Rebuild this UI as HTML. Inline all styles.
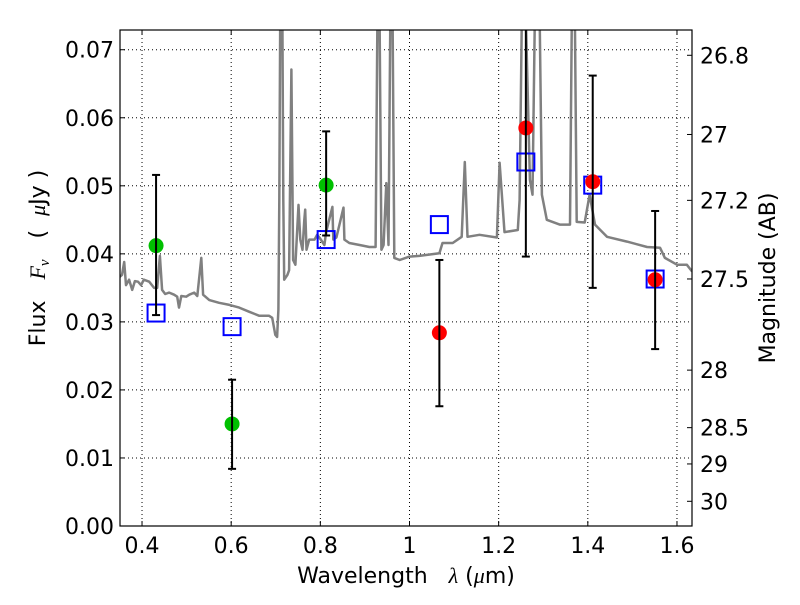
<!DOCTYPE html>
<html><head><meta charset="utf-8"><style>
body{margin:0;background:#fff}
svg{font-family:"DejaVu Sans","Liberation Sans",sans-serif}
.pre{white-space:pre}
</style></head><body>
<svg id="chart" width="800" height="600" viewBox="0 0 800 600"></svg>
<script>
// Spectrum (wavelength um, flux uJy)
const specLam=[0.348,0.355,0.360,0.364,0.371,0.378,0.384,0.391,0.398,0.404,0.416,0.427,0.434,0.440,0.445,0.452,0.461,0.472,0.479,0.483,0.488,0.499,0.506,0.517,0.524,0.533,0.537,0.551,0.573,0.596,0.618,0.640,0.663,0.685,0.692,0.699,0.703,0.706,0.708,0.710,0.715,0.717,0.719,0.726,0.730,0.735,0.739,0.744,0.748,0.751,0.755,0.760,0.764,0.766,0.769,0.775,0.787,0.793,0.798,0.809,0.813,0.827,0.829,0.836,0.852,0.854,0.865,0.888,0.910,0.924,0.928,0.933,0.937,0.942,0.948,0.953,0.957,0.962,0.966,0.978,1.000,1.022,1.067,1.074,1.097,1.117,1.124,1.130,1.157,1.196,1.202,1.213,1.243,1.247,1.252,1.261,1.270,1.276,1.281,1.292,1.297,1.308,1.337,1.360,1.364,1.371,1.375,1.393,1.404,1.416,1.443,1.488,1.533,1.562,1.573,1.600,1.622,1.634];
const specFlux=[0.0365,0.0369,0.0388,0.0354,0.0362,0.0347,0.0360,0.0359,0.0354,0.0362,0.0359,0.0350,0.0350,0.0397,0.0347,0.0341,0.0343,0.0340,0.0337,0.0321,0.0338,0.0337,0.0340,0.0343,0.0338,0.0394,0.0340,0.0332,0.0328,0.0325,0.0321,0.0315,0.0309,0.0309,0.0306,0.0281,0.0278,0.0318,0.0479,0.0744,0.0744,0.0479,0.0362,0.0369,0.0376,0.0671,0.0391,0.0384,0.0435,0.0472,0.0421,0.0406,0.0450,0.0465,0.0406,0.0421,0.0421,0.0428,0.0424,0.0413,0.0432,0.0469,0.0421,0.0424,0.0468,0.0421,0.0416,0.0413,0.0410,0.0410,0.0744,0.0744,0.0406,0.0413,0.0504,0.0413,0.0744,0.0744,0.0394,0.0391,0.0396,0.0397,0.0401,0.0416,0.0416,0.0425,0.0535,0.0425,0.0428,0.0424,0.0534,0.0432,0.0435,0.0479,0.0744,0.0744,0.0509,0.0487,0.0744,0.0744,0.0487,0.0450,0.0443,0.0443,0.0744,0.0744,0.0447,0.0446,0.0487,0.0443,0.0425,0.0418,0.0410,0.0409,0.0394,0.0384,0.0384,0.0374];
// Green observed points
const greenLam=[0.4315,0.602,0.813];
const greenFlux=[0.0412,0.0150,0.0501];
const greenLo=[0.0310,0.0084,0.0427];
const greenHi=[0.0516,0.0215,0.0580];
// Red observed points
const redLam=[1.067,1.261,1.411,1.551];
const redFlux=[0.0284,0.0585,0.0506,0.0362];
const redLo=[0.0176,0.0396,0.0350,0.0260];
const redHi=[0.0391,0.0780,0.0662,0.0463];
// Model photometry (blue squares)
const modelLam=[0.4315,0.602,0.813,1.067,1.261,1.411,1.551];
const modelFlux=[0.0313,0.0293,0.0421,0.0443,0.0535,0.0501,0.0363];
// Ticks
const xTicks=[0.4,0.6,0.8,1.0,1.2,1.4,1.6];
const xTickLabels=["0.4","0.6","0.8","1","1.2","1.4","1.6"];
const yTicks=[0,0.01,0.02,0.03,0.04,0.05,0.06,0.07];
const yTickLabels=["0.00","0.01","0.02","0.03","0.04","0.05","0.06","0.07"];
const magTicks=[26.8,27,27.2,27.5,28,28.5,29,30];
const magTickLabels=["26.8","27","27.2","27.5","28","28.5","29","30"];

const L=120,R=692,T=30,B=526;
const xmin=0.3506,xmax=1.6337,ymin=0,ymax=0.0729;
const sx=v=>L+(v-xmin)/(xmax-xmin)*(R-L);
const sy=v=>B-(v-ymin)/(ymax-ymin)*(B-T);
const magToFlux=m=>Math.pow(10,(23.9-m)/2.5);
const svg=document.getElementById('chart');
const NS='http://www.w3.org/2000/svg';
function mk(tag,attrs,parent){const e=document.createElementNS(NS,tag);for(const k in attrs)e.setAttribute(k,attrs[k]);(parent||svg).appendChild(e);return e;}

const defs=mk('defs',{});
const cp=mk('clipPath',{id:'clip'},defs);
mk('rect',{x:L,y:T,width:R-L,height:B-T},cp);

const grid=mk('g',{});


xTicks.forEach(v=>mk('line',{x1:sx(v),x2:sx(v),y1:T,y2:B,stroke:'#000','stroke-width':1,'stroke-dasharray':'1,3'},grid));
yTicks.forEach(v=>mk('line',{x1:L,x2:R,y1:sy(v),y2:sy(v),stroke:'#000','stroke-width':1,'stroke-dasharray':'1,3'},grid));

const plot=mk('g',{'clip-path':'url(#clip)'});
let d='';specLam.forEach((l,i)=>{d+=(i?'L':'M')+sx(l).toFixed(1)+','+sy(specFlux[i]).toFixed(1);});
const sp=mk('path',{d:d,fill:'none',stroke:'#808080','stroke-width':2.5,'stroke-linejoin':'round'},plot);



modelLam.forEach((l,i)=>{
  const r=mk('rect',{x:sx(l)-8.5,y:sy(modelFlux[i])-8.5,width:17,height:17,fill:'none',stroke:'#0000ff','stroke-width':2},plot);
  
  
});
function drawPts(lam,flux,lo,hi,color,name){
  lam.forEach((l,i)=>{
    const g=mk('g',{},plot);
    
    
    const x=sx(l);
    mk('circle',{cx:x,cy:sy(flux[i]),r:7.5,fill:color},g);
    mk('line',{x1:x,x2:x,y1:sy(lo[i]),y2:sy(hi[i]),stroke:'#000','stroke-width':2},g);
    mk('line',{x1:x-4,x2:x+4,y1:sy(lo[i]),y2:sy(lo[i]),stroke:'#000','stroke-width':2},g);
    mk('line',{x1:x-4,x2:x+4,y1:sy(hi[i]),y2:sy(hi[i]),stroke:'#000','stroke-width':2},g);
  });
}
drawPts(greenLam,greenFlux,greenLo,greenHi,'#00c000','green-data-point');
drawPts(redLam,redFlux,redLo,redHi,'#ff0000','red-data-point');

const fr=mk('rect',{x:L,y:T,width:R-L,height:B-T,fill:'none',stroke:'#000','stroke-width':1.2});



const ax=mk('g',{'font-size':22,fill:'#000'});
xTicks.forEach((v,i)=>{
  mk('line',{x1:sx(v),x2:sx(v),y1:B,y2:B-5,stroke:'#000'},ax);
  mk('line',{x1:sx(v),x2:sx(v),y1:T,y2:T+5,stroke:'#000'},ax);
  const t=mk('text',{x:sx(v),y:B+27,'text-anchor':'middle'},ax);t.textContent=xTickLabels[i];
  
  
});
yTicks.forEach((v,i)=>{
  mk('line',{x1:L,x2:L+5,y1:sy(v),y2:sy(v),stroke:'#000'},ax);
  const t=mk('text',{x:L-6,y:sy(v)+8,'text-anchor':'end'},ax);t.textContent=yTickLabels[i];
  
  
});
magTicks.forEach((m,i)=>{
  const y=sy(magToFlux(m));
  mk('line',{x1:R,x2:R-5,y1:y,y2:y,stroke:'#000'},ax);
  const t=mk('text',{x:R+8,y:y+8,'text-anchor':'start'},ax);t.textContent=magTickLabels[i];
  
  
});
const xl=mk('text',{x:406,y:583,'text-anchor':'middle','font-size':22,'class':'pre'});
xl.innerHTML='Wavelength   <tspan font-family="Liberation Serif, serif" font-style="italic">λ</tspan> (<tspan font-family="Liberation Serif, serif" font-style="italic">μ</tspan>m)';


const yl=mk('text',{x:0,y:0,'text-anchor':'middle','font-size':22,'class':'pre',transform:'translate(45,258) rotate(-90)'});
yl.innerHTML='Flux   <tspan font-family="Liberation Serif, serif" font-style="italic">F<tspan font-size="15" dy="4">ν</tspan></tspan><tspan dy="-4">   (  </tspan><tspan font-family="Liberation Serif, serif" font-style="italic">μ</tspan>Jy )';


const rl=mk('text',{x:0,y:0,'text-anchor':'middle','font-size':22,transform:'translate(775,278) rotate(-90)'});
rl.textContent='Magnitude (AB)';


</script>
</body></html>
